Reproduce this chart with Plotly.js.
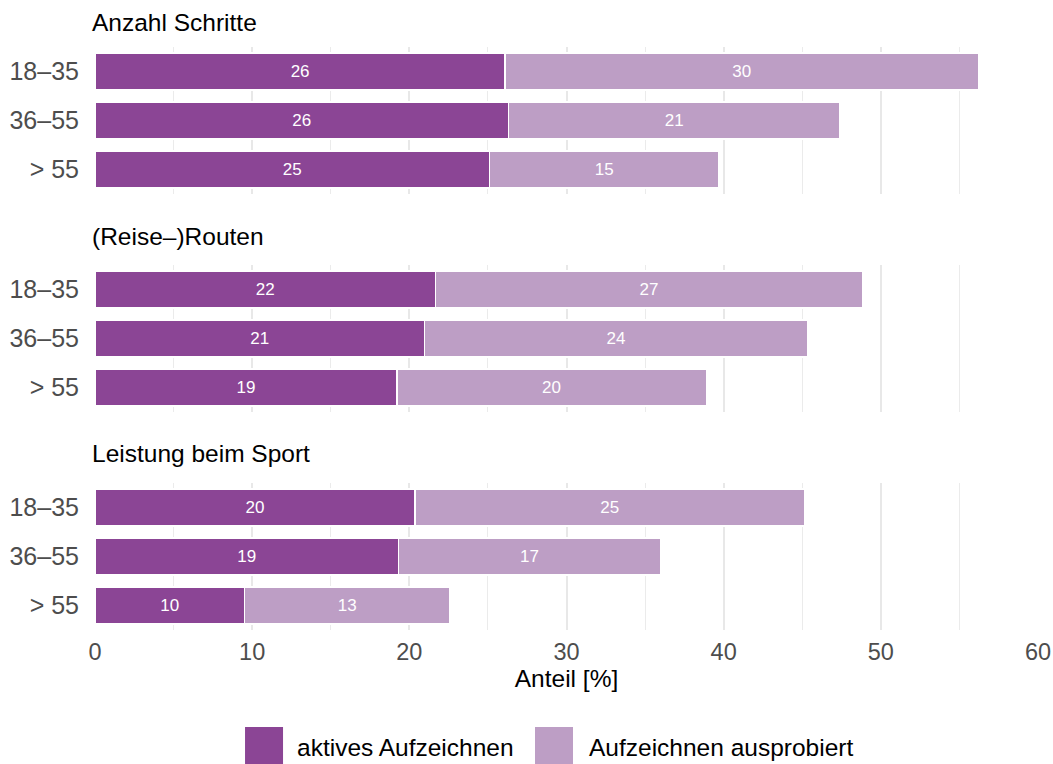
<!DOCTYPE html>
<html>
<head>
<meta charset="utf-8">
<script src="https://cdn.plot.ly/plotly-3.0.1.min.js"></script>
<style>html,body{margin:0;padding:0;background:#fff;}#chart{width:1053px;height:764px;}</style>
</head>
<body>
<div id="chart"></div>
<script>
const ageGroups = ["18–35", "36–55", "> 55"];
const panelTitles = ["Anzahl Schritte", "(Reise–)Routen", "Leistung beim Sport"];
const seriesNames = ["aktives Aufzeichnen", "Aufzeichnen ausprobiert"];

const schritteAktiv = [26.1, 26.3, 25.1];
const schritteProbiert = [30.1, 21.1, 14.6];
const routenAktiv = [21.65, 20.95, 19.2];
const routenProbiert = [27.2, 24.4, 19.7];
const sportAktiv = [20.35, 19.3, 9.5];
const sportProbiert = [24.8, 16.7, 13.1];

const xTicks = [0, 10, 20, 30, 40, 50, 60];

const colDark = "#8B4595";
const colLight = "#BD9EC5";
const FONT = "Liberation Sans, Arial, Helvetica, sans-serif";

// panel -> axes (top panel first)
const panels = [
  {act: schritteAktiv, tri: schritteProbiert, xa: "x3", ya: "y"},
  {act: routenAktiv, tri: routenProbiert, xa: "x2", ya: "y2"},
  {act: sportAktiv, tri: sportProbiert, xa: "x", ya: "y3"}
];

const traces = [];
panels.forEach((p, i) => {
  [[p.act, colDark, seriesNames[0]], [p.tri, colLight, seriesNames[1]]].forEach(([vals, col, nm]) => {
    traces.push({
      type: "bar", orientation: "h",
      x: vals, y: ageGroups,
      xaxis: p.xa, yaxis: p.ya,
      name: nm, showlegend: false,
      width: 0.76,
      marker: {color: col, line: {color: "#ffffff", width: 1.5}},
      texttemplate: "%{x:.0f}",
      textposition: "inside",
      insidetextanchor: "middle",
      constraintext: "none",
      textfont: {family: FONT, size: 17, color: "#ffffff"},
      hovertemplate: nm + ": %{x}<extra></extra>"
    });
  });
});

const gridX = {
  range: [0, 60], tickvals: xTicks, showgrid: true, gridcolor: "#E8E8E8", gridwidth: 2,
  minor: {dtick: 5, tick0: 0, showgrid: true, gridcolor: "#EBEBEB", gridwidth: 1},
  zeroline: false, showline: false, ticks: "", fixedrange: true
};
const catY = (dom) => ({
  domain: dom, type: "category", categoryorder: "array", categoryarray: ageGroups,
  range: [2.5, -0.5], showgrid: false, zeroline: false, showline: false, ticks: "",
  ticklabelstandoff: 15,
  tickfont: {family: FONT, size: 25, color: "#4D4D4D"}, fixedrange: true
});

const layout = {
  width: 1053, height: 764,
  margin: {l: 95, r: 15, t: 47, b: 134},
  paper_bgcolor: "#ffffff", plot_bgcolor: "#ffffff",
  barmode: "stack",
  showlegend: false,
  font: {family: FONT},
  xaxis: Object.assign({}, gridX, {
    anchor: "y3", showticklabels: true,
    tickfont: {family: FONT, size: 23.5, color: "#4D4D4D"},
    ticklabelstandoff: 5,
    title: {text: "Anteil [%]", font: {family: FONT, size: 24.5, color: "#000000"}, standoff: 6}
  }),
  xaxis2: Object.assign({}, gridX, {anchor: "y2", matches: "x", showticklabels: false}),
  xaxis3: Object.assign({}, gridX, {anchor: "y", matches: "x", showticklabels: false}),
  yaxis: catY([0.7479, 1]),
  yaxis2: catY([0.3739, 0.6261]),
  yaxis3: catY([0, 0.2521]),
  annotations: [
    {text: panelTitles[0], xref: "paper", yref: "paper", x: -0.0053, y: 1.0412, xanchor: "left", yanchor: "middle", showarrow: false, font: {family: FONT, size: 24.5, color: "#000"}},
    {text: panelTitles[1], xref: "paper", yref: "paper", x: -0.0053, y: 0.6758, xanchor: "left", yanchor: "middle", showarrow: false, font: {family: FONT, size: 24.5, color: "#000"}},
    {text: panelTitles[2], xref: "paper", yref: "paper", x: -0.0053, y: 0.3036, xanchor: "left", yanchor: "middle", showarrow: false, font: {family: FONT, size: 24.5, color: "#000"}},
    {text: seriesNames[0], xref: "paper", yref: "paper", x: 0.2121, y: -0.2024, xanchor: "left", yanchor: "middle", showarrow: false, font: {family: FONT, size: 24.5, color: "#000"}},
    {text: seriesNames[1], xref: "paper", yref: "paper", x: 0.5217, y: -0.2024, xanchor: "left", yanchor: "middle", showarrow: false, font: {family: FONT, size: 24.5, color: "#000"}}
  ],
  shapes: [
    {type: "rect", xref: "paper", yref: "paper", x0: 0.1591, x1: 0.1994, y0: -0.2316, y1: -0.1664, fillcolor: colDark, line: {width: 0}},
    {type: "rect", xref: "paper", yref: "paper", x0: 0.4666, x1: 0.5069, y0: -0.2316, y1: -0.1664, fillcolor: colLight, line: {width: 0}}
  ]
};

Plotly.newPlot("chart", traces, layout, {displayModeBar: false, staticPlot: true});
</script>
</body>
</html>
